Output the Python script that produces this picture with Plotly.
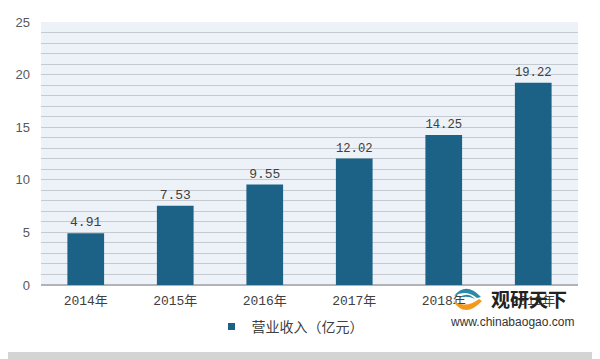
import base64
import plotly.graph_objects as go

categories = ["2014年", "2015年", "2016年", "2017年", "2018年", "2019年"]
revenue = [4.91, 7.53, 9.55, 12.02, 14.25, 19.22]
value_labels = ["4.91", "7.53", "9.55", "12.02", "14.25", "19.22"]
y_ticks = [0, 5, 10, 15, 20, 25]
series_name = "营业收入（亿元）"

W, H = 592, 351          # page body has an 8px margin
OFF = 8
L, R, T, B = 33, 22, 14, 74
PW, PH = W - L - R, H - T - B
BAR_COLOR = "#1b6286"

def px_x(x):  # reference-pixel x -> paper
    return (x - OFF - L) / PW

def px_y(y):  # reference-pixel y -> paper
    return (H - B - (y - OFF)) / PH

logo_svg = (
    '<svg xmlns="http://www.w3.org/2000/svg" width="32" height="28" viewBox="0 0 32 28">'
    '<path d="M2 16 Q14 34 31 16 L28 14 Q15 24 2 16 Z" fill="#f39a1e"/>'
    '<path d="M3 11 Q15 -4 30 12 L26 13 Q15 4 3 11 Z" fill="#2a8aa6"/>'
    '<path d="M8 13 Q16 6 24 14 Q16 10 8 13 Z" fill="#2a8aa6"/>'
    '</svg>'
)
logo_src = "data:image/svg+xml;base64," + base64.b64encode(logo_svg.encode()).decode()

fig = go.Figure()
fig.add_trace(go.Bar(
    x=categories, y=revenue, name=series_name, showlegend=False,
    marker=dict(color=BAR_COLOR, line=dict(width=0)),
    width=0.41,
    text=value_labels, textposition="outside",
    textfont=dict(family="Liberation Mono, Noto Sans CJK SC", size=13, color="#404040"),
    cliponaxis=False,
))
fig.add_trace(go.Scatter(
    x=[None], y=[None], mode="markers", name=series_name, showlegend=True,
    marker=dict(symbol="square", size=7, color=BAR_COLOR),
))

fig.update_layout(
    width=W, height=H,
    margin=dict(l=L, r=R, t=T, b=B, autoexpand=False),
    paper_bgcolor="white",
    plot_bgcolor="#edf2f9",
    showlegend=True,
    legend=dict(orientation="h", x=px_x(290), xanchor="center", y=px_y(327), yanchor="middle",
                font=dict(family="Noto Sans CJK SC", size=14, color="#404040"),
                itemwidth=30, bgcolor="rgba(0,0,0,0)"),
    shapes=[
        dict(type="rect", xref="paper", yref="paper",
             x0=px_x(593), x1=px_x(602), y0=px_y(362), y1=px_y(0),
             fillcolor="#d4d4d4", line=dict(width=0), layer="above"),
        dict(type="rect", xref="paper", yref="paper",
             x0=px_x(0), x1=px_x(602), y0=px_y(362), y1=px_y(352),
             fillcolor="#d4d4d4", line=dict(width=0), layer="above"),
    ],
    images=[dict(source=logo_src, xref="paper", yref="paper",
                 x=px_x(451), y=px_y(285), sizex=32 / PW, sizey=28 / PH,
                 xanchor="left", yanchor="top", sizing="stretch", layer="above")],
    annotations=[
        dict(text="<b>观研天下</b>", xref="paper", yref="paper", x=px_x(529), y=px_y(298),
             showarrow=False, font=dict(family="Noto Sans CJK SC", size=19, color="#222222"),
             xanchor="center", yanchor="middle"),
        dict(text="www.chinabaogao.com", xref="paper", yref="paper", x=px_x(512), y=px_y(322),
             showarrow=False, font=dict(family="Liberation Sans", size=12, color="#333333"),
             xanchor="center", yanchor="middle"),
    ],
)
fig.update_yaxes(
    range=[0, 25], tickvals=y_ticks, showgrid=True, gridcolor="#c5cad1", gridwidth=1,
    minor=dict(dtick=1, showgrid=True, gridcolor="#c5cad1", gridwidth=1),
    tickfont=dict(family="Liberation Sans", size=13, color="#595959"),
    zeroline=True, zerolinecolor="#b0b4ba", ticks="", ticklabelstandoff=10, automargin=False,
)
fig.update_xaxes(
    tickfont=dict(family="Liberation Mono, Noto Sans CJK SC", size=13, color="#404040"),
    showline=False, ticks="", automargin=False, ticklabelstandoff=6,
)

fig.write_html("out.html")
